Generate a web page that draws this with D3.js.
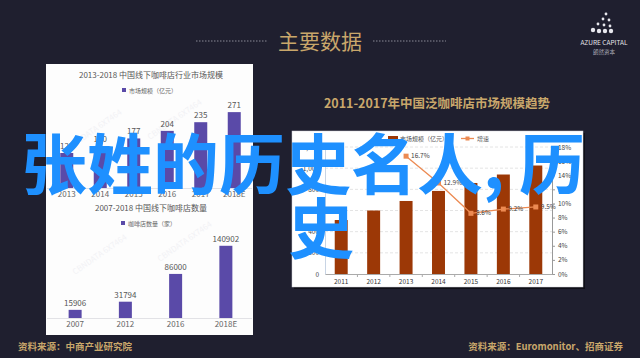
<!DOCTYPE html>
<html>
<head>
<meta charset="utf-8">
<script src="https://cdn.jsdelivr.net/npm/d3@7"></script>
<style>
  body { margin: 0; background: #1f1f2f; }
  svg { display: block; }
  text { font-family: "Noto Sans CJK SC", "Noto Sans", sans-serif; }
</style>
</head>
<body>
<script>
// left top: 2013-2018 market size (亿元)
var marketYears = ["2013", "2014", "2015", "2016", "2017", "2018E"];
var marketValues = [125, 150, 177, 204, 235, 271];

// left bottom: number of coffee shops (家)
var shopYears = ["2007", "2012", "2016", "2018E"];
var shopCounts = [15906, 31794, 86000, 140902];

// right: 2011-2017 pan-coffee market size and growth
var trendYears = ["2011", "2012", "2013", "2014", "2015", "2016", "2017"];
var trendSize = [510, 600, 690, 785, 860, 940, 1025];
var growthYears = ["2013", "2014", "2015", "2016", "2017"];
var growthRates = [16.7, 12.9, 8.6, 9.2, 9.5];
var sizeTicks = [0, 200, 400, 600, 800, 1000, 1200];
var rateTicks = [0, 2, 4, 6, 8, 10, 12, 14, 16, 18];

var W = 640, H = 358;
var gold = "#c9a76b";

var svg = d3.select("body").append("svg")
  .attr("width", W)
  .attr("height", H);

svg.append("rect").attr("width", W).attr("height", H).attr("fill", "#1f1f2f");

// ---- header ----
svg.append("text")
  .attr("x", 320).attr("y", 49)
  .attr("text-anchor", "middle")
  .attr("font-size", 21)
  .attr("fill", gold)
  .text("主要数据");
[[196, 267], [373, 446]].forEach(function(p) {
  svg.append("line")
    .attr("x1", p[0]).attr("x2", p[1])
    .attr("y1", 41).attr("y2", 41)
    .attr("stroke", "#8a8a96")
    .attr("stroke-width", 1)
    .attr("stroke-dasharray", "1.5,1.5");
});

// logo
var stars = [[606, 14], [603, 19], [609, 20], [598, 24], [604, 25], [610, 26], [593, 30], [599, 31], [605, 31], [611, 31]];
svg.selectAll(".star").data(stars).enter()
  .append("circle")
  .attr("cx", function(d) { return d[0]; })
  .attr("cy", function(d) { return d[1]; })
  .attr("r", function(d, i) { return i > 5 ? 2.2 : 1.4; })
  .attr("fill", "#e8e8ee");
svg.append("text")
  .attr("x", 604).attr("y", 45)
  .attr("text-anchor", "middle")
  .attr("font-size", 6.5)
  .attr("font-family", "Liberation Serif")
  .attr("fill", "#e6e6ea")
  .text("AZURE CAPITAL");
svg.append("text")
  .attr("x", 604).attr("y", 54)
  .attr("text-anchor", "middle")
  .attr("font-size", 5.5)
  .attr("fill", "#a8a8b4")
  .text("朗然资本");

// ---- left panel ----
svg.append("rect")
  .attr("x", 46).attr("y", 64)
  .attr("width", 207).attr("height", 271)
  .attr("fill", "#fdfdfd");

// faint watermarks
[[70, 150], [150, 140], [75, 275], [160, 262]].forEach(function(p) {
  svg.append("text")
    .attr("transform", "translate(" + p[0] + "," + p[1] + ") rotate(-35)")
    .attr("font-size", 8)
    .attr("fill", "#f2f2f5")
    .text("CBNDATA 6X7464");
});

var purple = "#5a4aa8";

function leftChart(opts) {
  var x = d3.scaleBand().domain(opts.cats).range([50, 251]);
  var y = d3.scaleLinear().domain(opts.domain).range([opts.base, opts.top]);

  svg.append("text")
    .attr("x", 151).attr("y", opts.titleY)
    .attr("text-anchor", "middle")
    .attr("font-size", 8)
    .attr("fill", "#555")
    .text(opts.title);
  var lg = svg.append("g");
  lg.append("rect")
    .attr("x", opts.legendX).attr("y", opts.legendY - 5)
    .attr("width", 4).attr("height", 4)
    .attr("fill", purple);
  lg.append("text")
    .attr("x", opts.legendX + 7).attr("y", opts.legendY)
    .attr("font-size", 6)
    .attr("fill", "#666")
    .text(opts.legend);

  svg.append("line")
    .attr("x1", 47).attr("x2", 252)
    .attr("y1", opts.base + 0.5).attr("y2", opts.base + 0.5)
    .attr("stroke", "#e2e2e6");

  var g = svg.selectAll(".bar" + opts.key)
    .data(opts.values)
    .enter()
    .append("g");
  g.append("rect")
    .attr("x", function(d, i) { return x(opts.cats[i]) + x.bandwidth() / 2 - 6.5; })
    .attr("y", function(d) { return y(d); })
    .attr("width", 13)
    .attr("height", function(d) { return opts.base - y(d); })
    .attr("fill", purple);
  g.append("text")
    .attr("x", function(d, i) { return x(opts.cats[i]) + x.bandwidth() / 2; })
    .attr("y", function(d) { return y(d) - 4; })
    .attr("text-anchor", "middle")
    .attr("font-size", 8)
    .attr("fill", "#555")
    .attr("font-family", "Liberation Sans")
    .text(function(d) { return d; });

  svg.selectAll(".cat" + opts.key)
    .data(opts.cats)
    .enter()
    .append("text")
    .attr("x", function(d) { return x(d) + x.bandwidth() / 2; })
    .attr("y", opts.base + 9)
    .attr("text-anchor", "middle")
    .attr("font-size", 8)
    .attr("fill", "#666")
    .attr("font-family", "Liberation Sans")
    .text(function(d) { return d; });
}

leftChart({
  key: "a", cats: marketYears, values: marketValues,
  domain: [0, 300], base: 188, top: 104,
  title: "2013-2018 中国线下咖啡店行业市场规模", titleY: 78,
  legend: "市场规模（亿元）", legendX: 122, legendY: 93
});
leftChart({
  key: "b", cats: shopYears, values: shopCounts,
  domain: [0, 160000], base: 318, top: 236,
  title: "2007-2018 中国线下咖啡店数量", titleY: 211,
  legend: "咖啡店数量（家）", legendX: 121, legendY: 226
});

// ---- right chart ----
svg.append("text")
  .attr("x", 437).attr("y", 108)
  .attr("text-anchor", "middle")
  .attr("font-size", 12.5)
  .attr("font-weight", "bold")
  .attr("fill", gold)
  .text("2011-2017年中国泛咖啡店市场规模趋势");

svg.append("rect")
  .attr("x", 294).attr("y", 133)
  .attr("width", 291).attr("height", 156)
  .attr("fill", "#000").attr("opacity", 0.5);
svg.append("rect")
  .attr("x", 292).attr("y", 131)
  .attr("width", 291).attr("height", 156)
  .attr("fill", "#ffffff")
  .attr("stroke", "#d0d0d8").attr("stroke-width", 0.5);

var brown = "#9c3806";
var orange = "#ec8a52";
var xr = d3.scaleBand().domain(trendYears).range([325, 552]);
var yl = d3.scaleLinear().domain([0, 1200]).range([274, 147]);
var yr = d3.scaleLinear().domain([0, 18]).range([274, 147]);

// gridlines
svg.selectAll(".grid").data(sizeTicks.slice(1)).enter()
  .append("line")
  .attr("x1", 325).attr("x2", 552)
  .attr("y1", function(d) { return yl(d); })
  .attr("y2", function(d) { return yl(d); })
  .attr("stroke", "#e4e4e4")
  .attr("stroke-dasharray", "3,2");

svg.selectAll(".tb").data(trendSize).enter()
  .append("rect")
  .attr("x", function(d, i) { return xr(trendYears[i]) + xr.bandwidth() * 0.3; })
  .attr("y", function(d) { return yl(d); })
  .attr("width", xr.bandwidth() * 0.4)
  .attr("height", function(d) { return 274 - yl(d); })
  .attr("fill", brown);

var axL = d3.axisLeft(yl).tickValues(sizeTicks).tickSize(0).tickPadding(6)
  .tickFormat(d3.format(","));
var gl = svg.append("g").attr("transform", "translate(325,0)").call(axL);
gl.select(".domain").attr("stroke", "#c8d4e4");
gl.selectAll("text").attr("font-size", 6.5).attr("fill", "#444")
  .attr("font-family", "Liberation Sans");

var axR = d3.axisRight(yr).tickValues(rateTicks).tickSize(3).tickPadding(3)
  .tickFormat(function(d) { return d + "%"; });
var gr = svg.append("g").attr("transform", "translate(552,0)").call(axR);
gr.select(".domain").attr("stroke", "#999");
gr.selectAll("line").attr("stroke", "#999");
gr.selectAll("text").attr("font-size", 6.5).attr("fill", "#444")
  .attr("font-family", "Liberation Sans");

var axB = d3.axisBottom(xr).tickSize(0).tickPadding(5);
var gb = svg.append("g").attr("transform", "translate(0,274)").call(axB);
gb.select(".domain").attr("stroke", "#aaa");
gb.selectAll("text").attr("font-size", 6.5).attr("fill", "#333")
  .attr("font-family", "Liberation Sans");
svg.selectAll(".sep").data(trendYears.slice(1)).enter()
  .append("line")
  .attr("x1", function(d) { return xr(d); })
  .attr("x2", function(d) { return xr(d); })
  .attr("y1", 274).attr("y2", 277)
  .attr("stroke", "#aaa");

// growth line
var line = d3.line()
  .x(function(d, i) { return xr(growthYears[i]) + xr.bandwidth() / 2; })
  .y(function(d) { return yr(d); });
svg.append("path")
  .datum(growthRates)
  .attr("d", line)
  .attr("fill", "none")
  .attr("stroke", orange)
  .attr("stroke-width", 1.3);
var pts = svg.selectAll(".pt").data(growthRates).enter().append("g");
pts.append("rect")
  .attr("x", function(d, i) { return xr(growthYears[i]) + xr.bandwidth() / 2 - 2.5; })
  .attr("y", function(d) { return yr(d) - 2.5; })
  .attr("width", 5).attr("height", 5)
  .attr("fill", orange);
pts.append("text")
  .attr("x", function(d, i) { return xr(growthYears[i]) + xr.bandwidth() / 2 + 5; })
  .attr("y", function(d) { return yr(d) + 2; })
  .attr("font-size", 6.5)
  .attr("fill", "#444")
  .attr("font-family", "Liberation Sans")
  .text(function(d) { return d.toFixed(1) + "%"; });

// legend
svg.append("rect").attr("x", 388).attr("y", 136).attr("width", 10).attr("height", 5).attr("fill", brown);
svg.append("text").attr("x", 400).attr("y", 141).attr("font-size", 6).attr("fill", "#555").text("市场规模（亿元）");
svg.append("line").attr("x1", 461).attr("x2", 474).attr("y1", 138.5).attr("y2", 138.5).attr("stroke", orange).attr("stroke-width", 1.3);
svg.append("rect").attr("x", 465.5).attr("y", 136.5).attr("width", 4).attr("height", 4).attr("fill", orange);
svg.append("text").attr("x", 477).attr("y", 141).attr("font-size", 6).attr("fill", "#555").text("增速");

// ---- footer ----
svg.append("text")
  .attr("x", 18).attr("y", 350)
  .attr("font-size", 9.5).attr("font-weight", "bold")
  .attr("fill", gold)
  .text("资料来源：中商产业研究院");
svg.append("text")
  .attr("x", 623).attr("y", 350)
  .attr("text-anchor", "end")
  .attr("font-size", 9.5).attr("font-weight", "bold")
  .attr("fill", gold)
  .text("资料来源：Euromonitor、招商证券");

// ---- overlay title ----
var ov = svg.append("text")
  .attr("font-size", 66)
  .attr("font-weight", "bold")
  .attr("fill", "#1e90ff");
ov.append("tspan").attr("x", 21).attr("y", 189).text("张姓的历史名人,");
ov.append("tspan").attr("x", 519).attr("y", 189).text("历");
ov.append("tspan").attr("x", 288).attr("y", 253).text("史");
</script>
</body>
</html>
